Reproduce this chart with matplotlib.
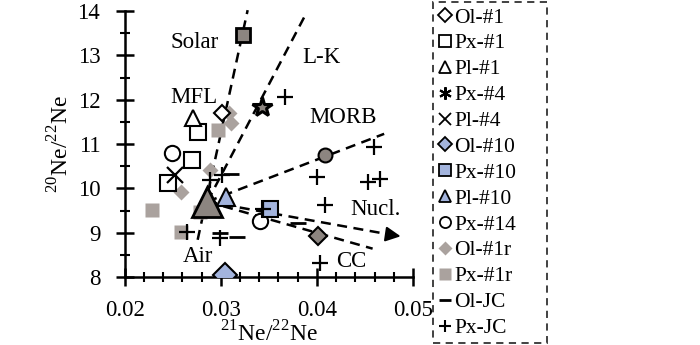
import numpy as np
import matplotlib
matplotlib.use('Agg')
import matplotlib.pyplot as plt
from matplotlib.lines import Line2D

plt.rcParams['font.family'] = ['Liberation Serif', 'DejaVu Serif']
plt.rcParams['mathtext.fontset'] = 'custom'
plt.rcParams['mathtext.rm'] = 'Liberation Serif'

# data (21Ne/22Ne, 20Ne/22Ne)
ol1_x = [0.0301]
ol1_y = [11.70]
px1_x = [0.0276, 0.0270, 0.0245]
px1_y = [11.27, 10.64, 10.13]
pl1_x = [0.0271]
pl1_y = [11.59]
px4_x = [0.0343]
px4_y = [11.84]
pl4_x = [0.0252]
pl4_y = [10.31]
ol10_x = [0.0304]
ol10_y = [8.05]
px10_x = [0.0351]
px10_y = [9.54]
pl10_x = [0.0305]
pl10_y = [9.81]
px14_x = [0.0249, 0.0341]
px14_y = [10.80, 9.27]
ol1r_x = [0.0309, 0.0311, 0.0259, 0.0289]
ol1r_y = [11.70, 11.48, 9.92, 10.42]
px1r_x = [0.0297, 0.0228, 0.0259, 0.0278]
px1r_y = [11.32, 9.52, 9.02, 9.47]
oljc_x = [0.0311, 0.0299, 0.0317, 0.0380]
oljc_y = [10.33, 9.00, 8.91, 9.23]
pxjc_x = [0.0289, 0.0301, 0.0265, 0.0299, 0.0344, 0.0400, 0.0453, 0.0466, 0.0408, 0.0459, 0.0367, 0.0403]
pxjc_y = [10.19, 10.31, 9.02, 8.89, 9.54, 10.26, 10.15, 10.22, 9.63, 10.94, 12.06, 8.32]

# end members
air = (0.0286, 9.70)
solar = (0.0323, 13.45)
morb = (0.0408, 10.76)
cc = (0.0401, 8.93)

# ends of the mixing / fractionation lines
solar_line = [(0.0276, 8.84), (0.0328, 14.02)]
lk_end = (0.0388, 13.91)
morb_end = (0.0470, 11.23)
nucl_end = (0.0490, 8.91)
cc_end = (0.0458, 8.64)

blue = '#a3b4dd'
lgray = '#aaa29e'
dgray = '#8c8580'

fig = plt.figure(figsize=(7, 3.45), dpi=100)
ax = fig.add_axes([0.178, 0.197, 0.412, 0.771])

dash = dict(color='k', lw=1.8, ls=(0, (4, 2.6)), clip_on=False, zorder=2)
ax.plot([solar_line[0][0], solar_line[1][0]], [solar_line[0][1], solar_line[1][1]], **dash)
ax.plot([air[0], lk_end[0]], [air[1], lk_end[1]], **dash)
ax.plot([air[0], morb_end[0]], [air[1], morb_end[1]], **dash)
ax.plot([air[0], cc_end[0]], [air[1], cc_end[1]], **dash)
ax.plot([air[0], nucl_end[0] - 0.0012], [air[1], nucl_end[1] + 0.04], **dash)
ax.annotate('', xy=nucl_end, xytext=(nucl_end[0] - 0.0014, nucl_end[1] + 0.045),
            arrowprops=dict(arrowstyle='-|>,head_length=0.9,head_width=0.45', color='k', lw=1.5),
            annotation_clip=False)

ax.plot(ol1r_x, ol1r_y, 'D', ms=8, mfc=lgray, mec='none', zorder=3)
ax.plot(px1r_x, px1r_y, 's', ms=10, mfc=lgray, mec='none', zorder=3)
ax.plot(ol1_x, ol1_y, 'D', ms=8, mfc='white', mec='k', mew=1.5, zorder=3)
ax.plot(px1_x, px1_y, 's', ms=11, mfc='white', mec='k', mew=1.5, zorder=3)
ax.plot(pl1_x, pl1_y, '^', ms=12, mfc='white', mec='k', mew=1.5, zorder=3)
ax.plot(px4_x, px4_y, marker='*', ls='none', ms=15, mfc=dgray, mec='k', mew=2.2, zorder=4)
ax.plot(pl4_x, pl4_y, 'x', ms=11, mec='k', mew=1.6, zorder=4)
ax.plot(px14_x, px14_y, 'o', ms=11, mfc='white', mec='k', mew=1.5, zorder=3)
ax.plot(ol10_x, ol10_y, 'D', ms=12, mfc=blue, mec='k', mew=1.5, zorder=4)
ax.plot(px10_x, px10_y, 's', ms=12, mfc=blue, mec='k', mew=1.5, zorder=4)
ax.plot(pl10_x, pl10_y, '^', ms=13, mfc=blue, mec='k', mew=1.5, zorder=4)
ax.plot(oljc_x, oljc_y, '_', ms=11, mec='k', mew=2, zorder=5)
ax.plot(pxjc_x, pxjc_y, '+', ms=11, mec='k', mew=1.6, zorder=5)

ax.plot(*solar, 's', ms=10, mfc=dgray, mec='k', mew=2, zorder=5)
ax.plot(*morb, 'o', ms=10, mfc=dgray, mec='k', mew=1.5, zorder=5)
ax.plot(*cc, 'D', ms=9, mfc=dgray, mec='k', mew=1.5, zorder=5)
ax.plot(*air, '^', ms=22, mfc=dgray, mec='k', mew=2, zorder=5)

fs = 16.5
ax.text(0.0273, 13.30, 'Solar', fontsize=fs, ha='center', va='center')
ax.text(0.0405, 12.96, 'L-K', fontsize=fs, ha='center', va='center')
ax.text(0.0272, 12.06, 'MFL', fontsize=fs, ha='center', va='center')
ax.text(0.0427, 11.59, 'MORB', fontsize=fs, ha='center', va='center')
ax.text(0.0461, 9.52, 'Nucl.', fontsize=fs, ha='center', va='center')
ax.text(0.0436, 8.35, 'CC', fontsize=fs, ha='center', va='center')
ax.text(0.0276, 8.46, 'Air', fontsize=fs, ha='center', va='center')

ax.set_xlim(0.02, 0.05)
ax.set_ylim(8, 14)
ax.set_xticks([0.02, 0.03, 0.04, 0.05])
ax.set_xticklabels(['0.02', '0.03', '0.04', '0.05'])
ax.set_xticks(np.arange(0.02, 0.0501, 0.002), minor=True)
ax.set_yticks(range(8, 15))
ax.set_yticks(np.arange(8, 14.01, 0.5), minor=True)
ax.spines['top'].set_visible(False)
ax.spines['right'].set_visible(False)
for s in ['left', 'bottom']:
    ax.spines[s].set_linewidth(1.8)
ax.tick_params(which='major', direction='inout', length=13, width=1.8, labelsize=16.5)
ax.tick_params(axis='y', which='major', pad=11)
ax.tick_params(axis='x', which='major', pad=10)
ax.tick_params(which='minor', direction='inout', length=7, width=1.5)
ax.set_xlabel(r'$^{21}$Ne/$^{22}$Ne', fontsize=17, labelpad=0)
ax.set_ylabel(r'$^{20}$Ne/$^{22}$Ne', fontsize=17, labelpad=3)

handles = [
    Line2D([], [], ls='none', marker='D', ms=7, mfc='white', mec='k', mew=1.3),
    Line2D([], [], ls='none', marker='s', ms=9, mfc='white', mec='k', mew=1.3),
    Line2D([], [], ls='none', marker='^', ms=9, mfc='white', mec='k', mew=1.3),
    Line2D([], [], ls='none', marker=(6, 2, 0), ms=9, mec='k', mew=1.5),
    Line2D([], [], ls='none', marker='x', ms=8, mec='k', mew=1.3),
    Line2D([], [], ls='none', marker='D', ms=7, mfc=blue, mec='k', mew=1.3),
    Line2D([], [], ls='none', marker='s', ms=9, mfc=blue, mec='k', mew=1.3),
    Line2D([], [], ls='none', marker='^', ms=9, mfc=blue, mec='k', mew=1.3),
    Line2D([], [], ls='none', marker='o', ms=8, mfc='white', mec='k', mew=1.3),
    Line2D([], [], ls='none', marker='D', ms=7, mfc=lgray, mec='none'),
    Line2D([], [], ls='none', marker='s', ms=9, mfc=lgray, mec='none'),
    Line2D([], [], ls='none', marker='_', ms=9, mec='k', mew=2),
    Line2D([], [], ls='none', marker='+', ms=9, mec='k', mew=1.5),
]
labels = ['Ol-#1', 'Px-#1', 'Pl-#1', 'Px-#4', 'Pl-#4', 'Ol-#10', 'Px-#10',
          'Pl-#10', 'Px-#14', 'Ol-#1r', 'Px-#1r', 'Ol-JC', 'Px-JC']
leg = fig.legend(handles, labels, loc='upper left', bbox_to_anchor=(0.619, 0.0, 0.162, 0.994),
                 mode='expand', fontsize=15.5, frameon=True, fancybox=False, edgecolor='k',
                 handlelength=0.6, handletextpad=0.12, labelspacing=0.27,
                 borderpad=0.25, borderaxespad=0)
leg.get_frame().set_linestyle((0, (4, 3)))
leg.get_frame().set_linewidth(1.3)

plt.savefig('out.png', dpi=100)
